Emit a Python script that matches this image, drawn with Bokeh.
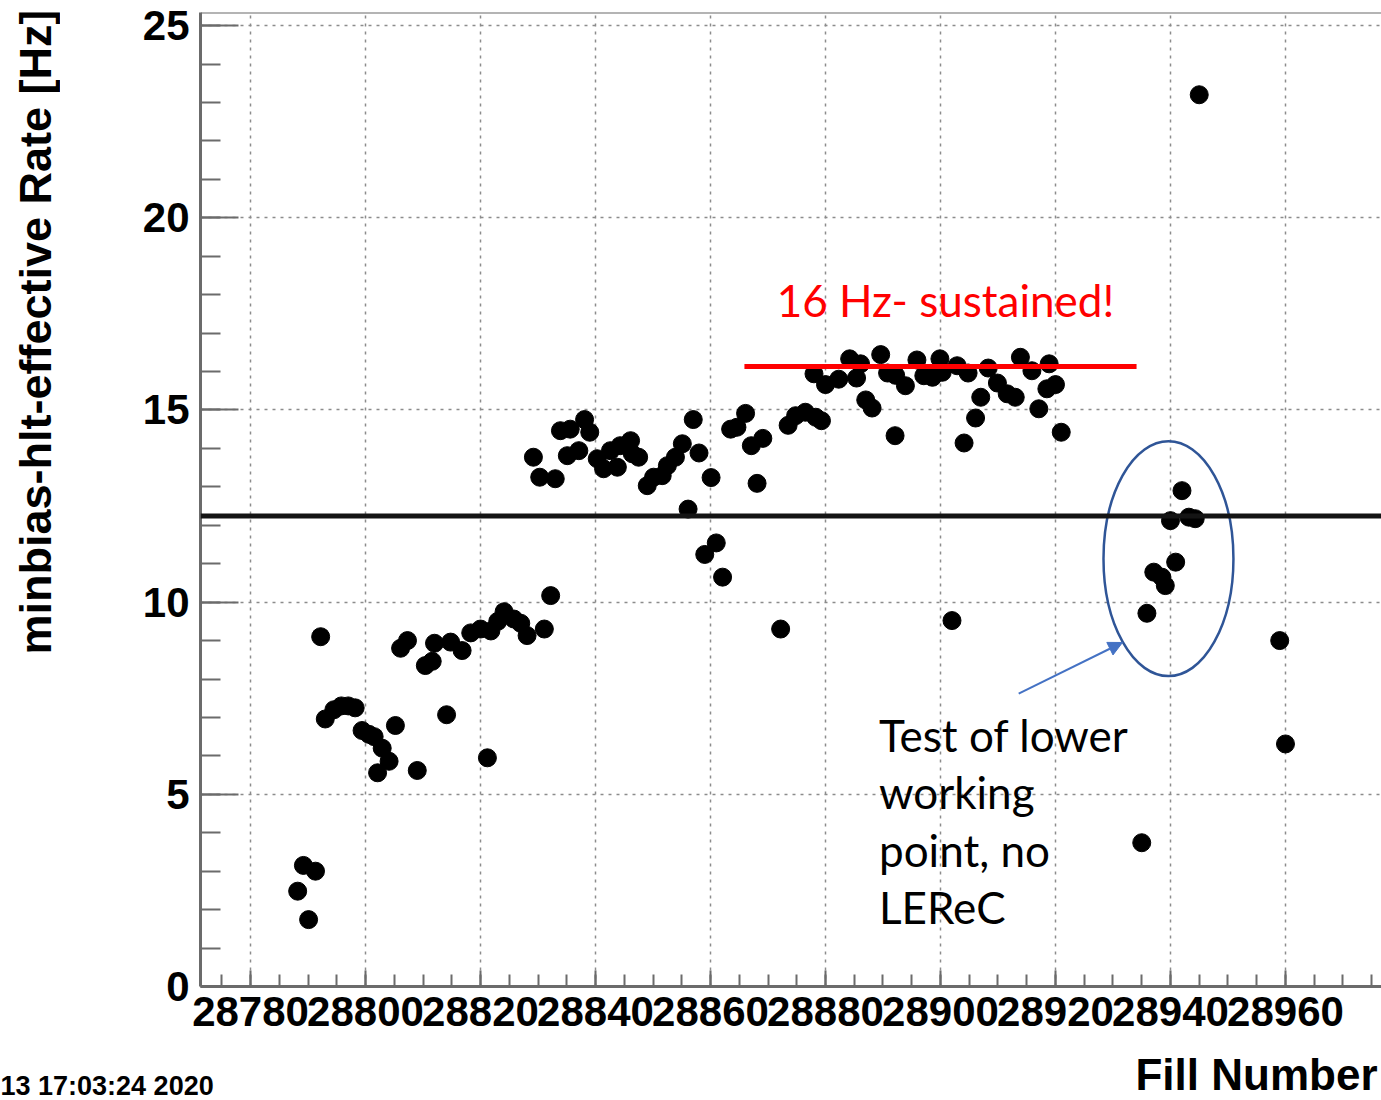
import math
from bokeh.plotting import figure
from bokeh.layouts import column, row
from bokeh.models import (Range1d, SingleIntervalTicker, Span, Label, Arrow,
                          NormalHead, ColumnDataSource)
from bokeh.embed import file_html
from bokeh.resources import INLINE

# Effective min-bias HLT rate per fill
fills = [
    28788.2, 28789.2, 28791.3, 28790.1, 28792.2,
    28793.0, 28794.5, 28795.8, 28797.0, 28798.2,
    28799.4, 28800.6, 28801.5, 28802.9, 28804.1, 28802.1,
    28805.2, 28809.0, 28814.1, 28821.2,
    28806.1, 28807.3, 28810.4, 28811.6, 28812.0, 28814.8, 28816.8, 28818.3,
    28820.0, 28821.8, 28823.0, 28824.1, 28825.8, 28827.0, 28828.1, 28831.1,
    28832.2,
    28829.2, 28830.3, 28833.0, 28833.9, 28835.6, 28838.1, 28839.0, 28835.1,
    28837.1, 28840.3, 28841.4, 28843.8, 28842.6, 28844.3, 28846.1, 28847.5,
    28846.4, 28849.0, 28850.1, 28851.6, 28852.5, 28853.9, 28855.1, 28857.0,
    28858.0, 28856.1, 28860.1, 28859.0, 28861.0, 28862.1, 28863.5, 28864.6,
    28866.1, 28867.1, 28869.1, 28868.1, 28872.2,
    28873.5, 28874.8, 28876.5, 28878.3, 28879.3,
    28878.0, 28880.0, 28882.3, 28884.2, 28885.4, 28886.1, 28887.0, 28888.1,
    28889.6, 28890.8, 28892.2, 28893.9, 28892.1, 28895.9, 28897.1, 28898.6,
    28899.9, 28900.3, 28902.9, 28904.8, 28904.1, 28906.1, 28907.0, 28908.3,
    28909.9, 28911.6, 28913.0, 28913.9, 28915.9, 28918.9, 28918.5, 28920.0,
    28917.1, 28921.0, 28902.0,
    28935.0, 28935.9, 28937.1, 28938.5, 28939.1, 28940.9, 28940.0, 28942.0,
    28943.2, 28944.3, 28945.0, 28959.0, 28960.0,
]
rates = [
    2.48, 3.15, 3.00, 1.74, 9.10,
    6.96, 7.20, 7.30, 7.30, 7.25,
    6.66, 6.56, 6.50, 6.20, 5.86, 5.56,
    6.79, 5.62, 7.07, 5.95,
    8.80, 9.00, 8.35, 8.46, 8.93, 8.96, 8.74, 9.20,
    9.30, 9.25, 9.50, 9.75, 9.56, 9.45, 9.13, 9.30,
    10.17,
    13.77, 13.25, 13.21, 14.46, 14.50, 14.75, 14.42, 13.81,
    13.94, 13.73, 13.47, 13.51, 13.94, 14.07, 14.20, 13.77,
    13.86, 13.03, 13.25, 13.29, 13.55, 13.77, 14.12, 14.75,
    13.88, 12.42, 13.24, 11.24, 11.54, 10.65, 14.50, 14.55,
    14.91, 14.07, 14.26, 13.09, 9.30,
    14.60, 14.85, 14.94, 14.81, 14.72,
    15.94, 15.66, 15.80, 16.33, 15.83, 16.20, 15.26, 15.05,
    16.44, 15.96, 15.90, 15.63, 14.33, 16.30, 15.89, 15.85,
    16.33, 15.98, 16.15, 15.96, 14.14, 14.79, 15.33, 16.09,
    15.70, 15.42, 15.33, 16.37, 16.02, 16.20, 15.55, 15.66,
    15.03, 14.42, 9.52,
    3.74, 9.71, 10.78, 10.65, 10.43, 11.04, 12.12, 12.90,
    12.21, 12.17, 23.20, 9.00, 6.31,
]

x_ticks_step = 20
y_ticks_step = 5
mean_rate = 12.24
sustained_rate = 16.13
sustained_fills = (28865.9, 28934.1)

FONT = "Liberation Sans"
NOTE_FONT = "Lato"
AXIS_GREY = "#6b6b6b"
Y_MAX = 25.34


def text_strip(width, height):
    """Blank panel used only to carry free-standing text."""
    f = figure(width=width, height=height, x_range=Range1d(0, 1),
               y_range=Range1d(0, 1), x_axis_type=None, y_axis_type=None,
               output_backend="svg", toolbar_location=None,
               min_border=0, outline_line_color=None)
    f.border_fill_color = "white"
    f.background_fill_color = "white"
    return f


p = figure(width=1321, height=1050,
           x_range=Range1d(28771.3, 28976.7), y_range=Range1d(0, Y_MAX),
           output_backend="svg", toolbar_location=None,
           min_border_left=140, min_border_right=0,
           min_border_top=12, min_border_bottom=64)
p.outline_line_color = None
p.background_fill_color = "white"
p.border_fill_color = "white"

# axes: ticks point into the frame
p.xaxis.ticker = SingleIntervalTicker(interval=x_ticks_step, num_minor_ticks=4)
p.yaxis.ticker = SingleIntervalTicker(interval=y_ticks_step, num_minor_ticks=5)
for ax in (p.xaxis[0], p.yaxis[0]):
    ax.axis_line_color = AXIS_GREY
    ax.axis_line_width = 3
    ax.major_tick_line_color = AXIS_GREY
    ax.major_tick_line_width = 2
    ax.minor_tick_line_color = AXIS_GREY
    ax.minor_tick_line_width = 2
    ax.major_tick_out = 0
    ax.minor_tick_out = 0
    ax.major_label_text_font = FONT
    ax.major_label_text_font_style = "bold"
    ax.major_label_text_font_size = "42px"
    ax.major_label_text_color = "black"
p.xaxis.major_tick_in = 16
p.xaxis.minor_tick_in = 12
p.xaxis.major_label_standoff = 10
p.yaxis.major_tick_in = 38
p.yaxis.minor_tick_in = 20
p.yaxis.major_label_standoff = 11

for g in (p.xgrid[0], p.ygrid[0]):
    g.grid_line_color = "#8c8c8c"
    g.grid_line_dash = "3 5"
    g.grid_line_width = 1.5

# top frame edge
p.add_layout(Span(location=Y_MAX, dimension="width", line_color=AXIS_GREY,
                  line_width=2))

# average rate
p.add_layout(Span(location=mean_rate, dimension="width", line_color="#141414",
                  line_width=5))

src = ColumnDataSource(dict(fill=fills, rate=rates))
p.scatter("fill", "rate", source=src, size=18, color="black")

# sustained-rate marker
p.segment(x0=sustained_fills[0], y0=sustained_rate,
          x1=sustained_fills[1], y1=sustained_rate,
          line_color="#ff0000", line_width=5)
p.add_layout(Label(x=28871.5, y=17.87, text="16 Hz- sustained!",
                   text_font=NOTE_FONT, text_font_size="44px",
                   text_color="#ff0000", text_baseline="alphabetic"))

# low working point test
p.ellipse(x=28939.65, y=11.13, width=22.6, height=6.11,
          fill_color=None, line_color="#2f5597", line_width=2.5)
p.add_layout(Arrow(end=NormalHead(size=14, fill_color="#4472c4",
                                  line_color="#4472c4"),
                   x_start=28913.6, y_start=7.62, x_end=28931.65, y_end=8.95,
                   line_color="#4472c4", line_width=2))
for i, line in enumerate(["Test of lower", "working", "point, no", "LEReC"]):
    p.add_layout(Label(x=28889.3, y=6.54 - i * 1.49, text=line,
                       text_font=NOTE_FONT, text_font_size="44px",
                       text_color="black", text_baseline="alphabetic"))

# y-axis title, read upwards and anchored at the top
left = text_strip(60, 1050)
left.add_layout(Label(x=35, y=977, x_units="screen", y_units="screen",
                      text="minbias-hlt-effective Rate [Hz]",
                      angle=math.pi / 2, text_align="right",
                      text_baseline="middle", text_font=FONT,
                      text_font_style="bold", text_font_size="45px",
                      text_color="black"))

# x-axis title and time stamp
bottom = text_strip(1381, 50)
bottom.add_layout(Label(x=1377, y=26, x_units="screen", y_units="screen",
                        text="Fill Number", text_align="right",
                        text_baseline="alphabetic", text_font=FONT,
                        text_font_style="bold", text_font_size="44px",
                        text_color="black"))
bottom.add_layout(Label(x=0, y=15, x_units="screen", y_units="screen",
                        text="13 17:03:24 2020", text_align="left",
                        text_baseline="alphabetic", text_font=FONT,
                        text_font_style="bold", text_font_size="27px",
                        text_color="black"))

page = column(row(left, p, spacing=0), bottom, spacing=0)
open("out.html", "w").write(file_html(page, INLINE))
